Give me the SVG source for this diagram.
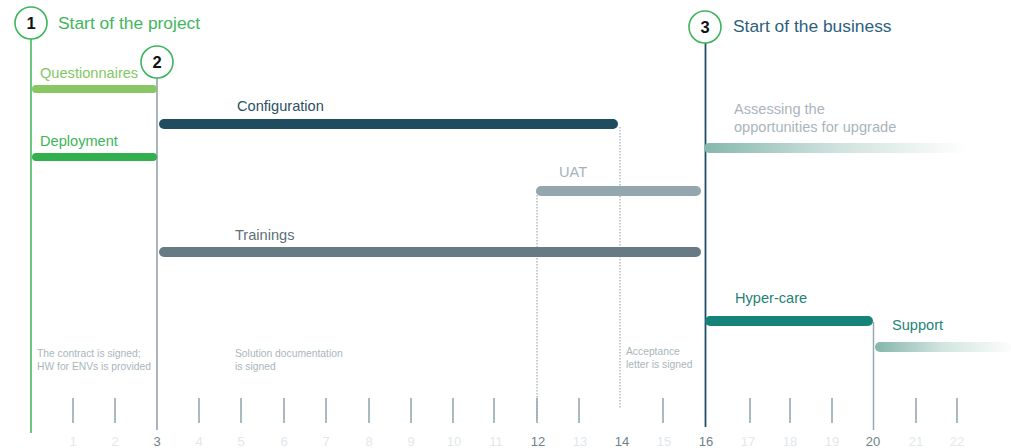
<svg xmlns="http://www.w3.org/2000/svg" width="1011" height="448" viewBox="0 0 1011 448">
<style>
text{font-family:"Liberation Sans",Arial,sans-serif}
.num{font-size:13px;fill:#e2e8eb;text-anchor:middle}
.key{fill:#6f818a}
.tick{stroke:#8fa3ad;stroke-width:1.5}
.note{font-size:10.3px;fill:#a9b6bc}
.lbl{font-size:14.6px}
.circ{fill:#fff;stroke:#3cb55a;stroke-width:1.6}
.cn{font-size:16.5px;font-weight:bold;fill:#111;text-anchor:middle}
.dot{stroke:#9aa9b1;stroke-width:1.2;stroke-dasharray:1.5 1.5;fill:none}
.ttl{font-size:17.4px}
</style>
<defs>
<linearGradient id="gA" x1="0" x2="1" y1="0" y2="0">
<stop offset="0" stop-color="#86b8ac"/><stop offset="0.5" stop-color="#cfe2dd"/><stop offset="1" stop-color="#ffffff"/>
</linearGradient>
<linearGradient id="gS" x1="0" x2="1" y1="0" y2="0">
<stop offset="0" stop-color="#84b5aa"/><stop offset="0.5" stop-color="#d3e5e0"/><stop offset="1" stop-color="#fbfdfc"/>
</linearGradient>
</defs>
<g id="axis">
<line class="tick" x1="73" y1="398" x2="73" y2="423"/>
<line class="tick" x1="115" y1="398" x2="115" y2="423"/>
<line class="tick" x1="199" y1="398" x2="199" y2="423"/>
<line class="tick" x1="241" y1="398" x2="241" y2="423"/>
<line class="tick" x1="284" y1="398" x2="284" y2="423"/>
<line class="tick" x1="326" y1="398" x2="326" y2="423"/>
<line class="tick" x1="369" y1="398" x2="369" y2="423"/>
<line class="tick" x1="411" y1="398" x2="411" y2="423"/>
<line class="tick" x1="453" y1="398" x2="453" y2="423"/>
<line class="tick" x1="494" y1="398" x2="494" y2="423"/>
<line class="tick" x1="537" y1="398" x2="537" y2="423"/>
<line class="tick" x1="579" y1="398" x2="579" y2="423"/>
<line class="tick" x1="663" y1="398" x2="663" y2="423"/>
<line class="tick" x1="750" y1="398" x2="750" y2="423"/>
<line class="tick" x1="790" y1="398" x2="790" y2="423"/>
<line class="tick" x1="832" y1="398" x2="832" y2="423"/>
<line class="tick" x1="916" y1="398" x2="916" y2="423"/>
<line class="tick" x1="957" y1="398" x2="957" y2="423"/>
<text class="num" x="73" y="446">1</text>
<text class="num" x="115" y="446">2</text>
<text class="num key" x="157" y="446">3</text>
<text class="num" x="199" y="446">4</text>
<text class="num" x="241" y="446">5</text>
<text class="num" x="284" y="446">6</text>
<text class="num" x="326" y="446">7</text>
<text class="num" x="369" y="446">8</text>
<text class="num" x="411" y="446">9</text>
<text class="num" x="454" y="446">10</text>
<text class="num" x="496" y="446">11</text>
<text class="num key" x="538" y="446">12</text>
<text class="num" x="580" y="446">13</text>
<text class="num key" x="622" y="446">14</text>
<text class="num" x="664" y="446">15</text>
<text class="num key" x="706" y="446">16</text>
<text class="num" x="748" y="446">17</text>
<text class="num" x="790" y="446">18</text>
<text class="num" x="832" y="446">19</text>
<text class="num key" x="873" y="446">20</text>
<text class="num" x="916" y="446">21</text>
<text class="num" x="957" y="446">22</text>
</g>
<g id="connectors">
<line x1="31" y1="39" x2="31" y2="433" stroke="#5cc070" stroke-width="1.8"/>
<line x1="157" y1="78" x2="157" y2="430" stroke="#8d9da5" stroke-width="1.5"/>
<line x1="705.5" y1="43" x2="705.5" y2="427" stroke="#1f4e66" stroke-width="1.8"/>
<line x1="873.5" y1="322" x2="873.5" y2="430" stroke="#98a8b0" stroke-width="1.5"/>
<line class="dot" x1="620" y1="127" x2="620" y2="408"/>
<line class="dot" x1="537" y1="192" x2="537" y2="420"/>
</g>
<g id="milestone1">
<circle class="circ" cx="31" cy="23" r="16"/>
<text class="cn" x="31" y="29">1</text>
<text class="ttl" x="58" y="29" fill="#42b65c">Start of the project</text>
</g>
<g id="milestone2">
<circle class="circ" cx="157" cy="62" r="16"/>
<text class="cn" x="157" y="68">2</text>
</g>
<g id="milestone3">
<circle class="circ" cx="705" cy="27" r="16"/>
<text class="cn" x="705" y="33">3</text>
<text class="ttl" x="733" y="32" fill="#2d5f7c">Start of the business</text>
</g>
<g id="questionnaires">
<text class="lbl" x="40" y="78" fill="#84c765">Questionnaires</text>
<rect x="32" y="85" width="125" height="8" rx="4" fill="#88c764"/>
</g>
<g id="deployment">
<text class="lbl" x="40" y="146" fill="#3db558">Deployment</text>
<rect x="32" y="153" width="125" height="8" rx="4" fill="#33b04e"/>
</g>
<g id="configuration">
<text class="lbl" x="237" y="111" fill="#2c5063">Configuration</text>
<rect x="159" y="119" width="459" height="10" rx="5" fill="#1f4c5f"/>
</g>
<g id="assessing">
<text class="lbl" x="734" y="114" fill="#a9b5bb">Assessing the</text>
<text class="lbl" x="734" y="132" fill="#a9b5bb">opportunities for upgrade</text>
<rect x="704" y="143" width="264" height="10" rx="5" fill="url(#gA)"/>
</g>
<g id="uat">
<text class="lbl" x="559" y="177" fill="#a4b2b8">UAT</text>
<rect x="536" y="186" width="165" height="10" rx="5" fill="#94a6ae"/>
</g>
<g id="trainings">
<text class="lbl" x="235" y="240" fill="#5d6f78">Trainings</text>
<rect x="159" y="247" width="542" height="10" rx="5" fill="#677b84"/>
</g>
<g id="hypercare">
<text class="lbl" x="735" y="303" fill="#1f8075">Hyper-care</text>
<rect x="705" y="316" width="168" height="10" rx="5" fill="#168378"/>
</g>
<g id="support">
<text class="lbl" x="892" y="330" fill="#238479">Support</text>
<rect x="875" y="342" width="136" height="10" rx="5" fill="url(#gS)"/>
</g>
<g id="notes">
<text class="note" x="37" y="357">The contract is signed;</text>
<text class="note" x="37" y="370">HW for ENVs is provided</text>
<text class="note" x="235" y="357">Solution documentation</text>
<text class="note" x="235" y="370">is signed</text>
<text class="note" x="626" y="355">Acceptance</text>
<text class="note" x="626" y="368">letter is signed</text>
</g>
</svg>
